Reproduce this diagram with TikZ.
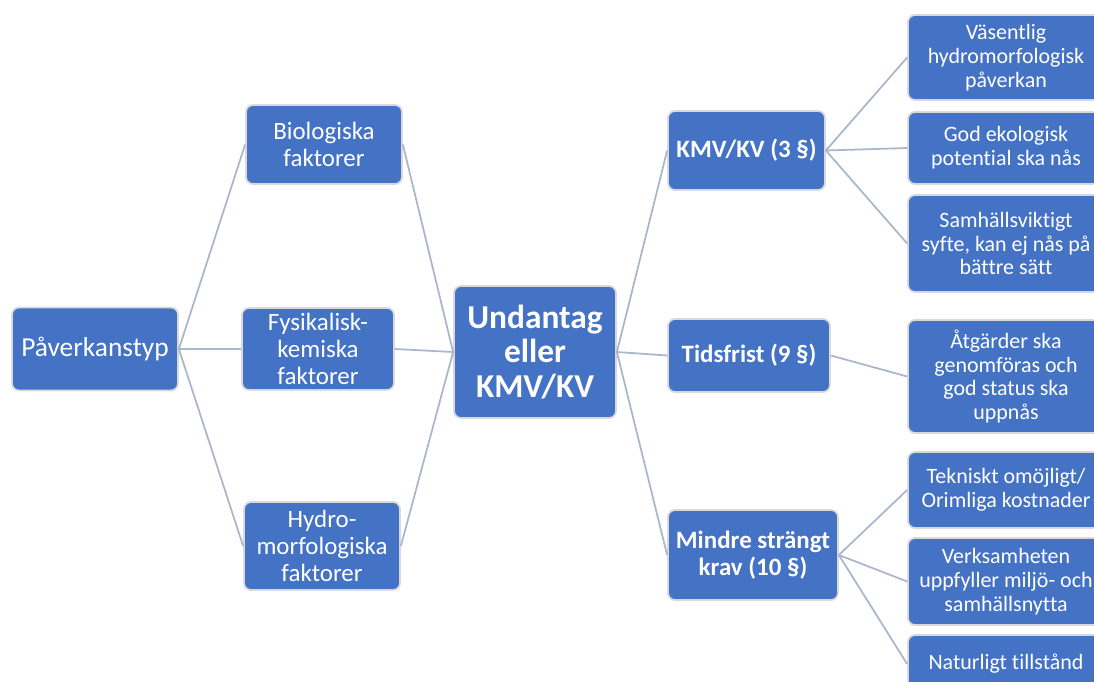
\documentclass[tikz,border=0pt]{standalone}
\usepackage{fontspec}
\setmainfont[RawFeature={-liga;-clig;-dlig;-calt}]{Carlito}
\usetikzlibrary{positioning}
\definecolor{boxblue}{HTML}{4472C4}
\definecolor{linkgray}{HTML}{A9B6CE}

\begin{document}
\begin{tikzpicture}[x=0.02cm, y=-0.02cm,
            b/.style={draw=gray!30, line width=1pt, fill=boxblue, rounded corners=4pt,
                text=white, align=center, inner sep=2pt, font=\fontsize{14.2}{15.3}\selectfont},
            bb/.style={b, font=\bfseries\fontsize{14.2}{15.3}\selectfont},
            r/.style={b, minimum width=3.92cm, font=\fontsize{12.5}{13.6}\selectfont},
            l/.style={draw=linkgray, line width=1pt}]
            \clip (0,0) rectangle (1094,682);
            % left part
            \node[b, minimum width=3.32cm, minimum height=1.66cm, font=\fontsize{15.6}{17}\selectfont] (pav) at (95,349) {Påverkanstyp};
            \node[b, minimum width=3.12cm, minimum height=1.58cm] (bio) at (324,144.5) {Biologiska\\faktorer};
            \node[b, minimum width=3.04cm, minimum height=1.64cm] (fys) at (318,349) {Fysikalisk-\\kemiska\\faktorer};
            \node[b, minimum width=3.12cm, minimum height=1.76cm] (hyd) at (322,546) {Hydro-\\morfologiska\\faktorer};
            \node[b, minimum width=3.24cm, minimum height=2.64cm, font=\bfseries\fontsize{19}{19.5}\selectfont] (und) at (535,352) {Undantag\\eller\\KMV/KV};
            % middle part
            \node[bb, minimum width=3.14cm, minimum height=1.58cm] (kmv) at (746.5,150.5) {KMV/KV (3 §)};
            \node[bb, minimum width=3.24cm, minimum height=1.46cm] (tid) at (749,355.5) {Tidsfrist (9 §)};
            \node[bb, minimum width=3.4cm, minimum height=1.8cm] (min) at (753,555) {Mindre strängt\\krav (10 §)};
            % right part
            \node[r, minimum height=1.7cm] (vas) at (1006,57.5) {Väsentlig\\hydromorfologisk\\påverkan};
            \node[r, minimum height=1.44cm] (god) at (1006,148) {God ekologisk\\potential ska nås};
            \node[r, minimum height=1.94cm] (sam) at (1006,243.5) {Samhällsviktigt\\syfte, kan ej nås på\\bättre sätt};
            \node[r, minimum height=2.26cm] (atg) at (1006,376.5) {Åtgärder ska\\genomföras och\\god status ska\\uppnås};
            \node[r, minimum height=1.52cm] (tek) at (1006,490) {Tekniskt omöjligt/\\Orimliga kostnader};
            \node[r, minimum height=1.74cm] (ver) at (1006,581.5) {Verksamheten\\uppfyller miljö- och\\samhällsnytta};
            \node[r, minimum height=1.16cm] (nat) at (1006,664) {Naturligt tillstånd};
            % connectors
            \foreach \t in {bio,fys,hyd} {
                \draw[l] (pav.east) -- (\t.west);
                \draw[l] (\t.east) -- (und.west);
            }
            \foreach \t in {kmv,tid,min} \draw[l] (und.east) -- (\t.west);
            \foreach \t in {vas,god,sam} \draw[l] (kmv.east) -- (\t.west);
            \draw[l] (tid.east) -- (atg.west);
            \foreach \t in {tek,ver,nat} \draw[l] (min.east) -- (\t.west);
        \end{tikzpicture}
\end{document}
